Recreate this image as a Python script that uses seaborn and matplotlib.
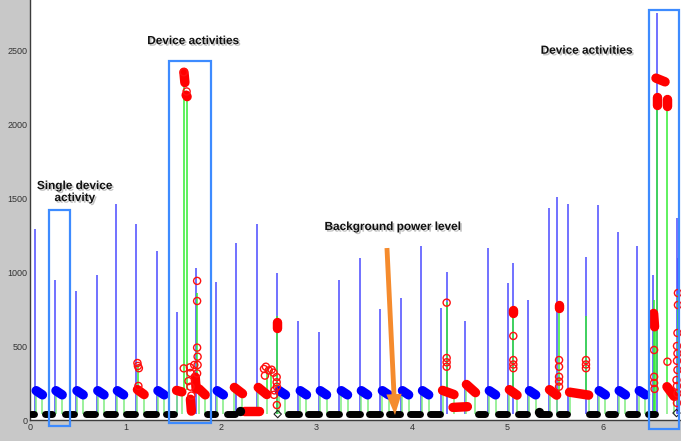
import matplotlib
matplotlib.use("Agg")
import matplotlib.pyplot as plt
import matplotlib.patheffects as pe
from matplotlib.patches import Rectangle
import numpy as np
import pandas as pd
import seaborn as sns

# appliance spikes (time, peak power)
spike_x = [0.055, 0.262, 0.482, 0.698, 0.904, 1.107, 1.327, 1.539, 1.735, 1.948,
           2.157, 2.377, 2.583, 2.806, 3.023, 3.236, 3.452, 3.665, 3.882, 4.091,
           4.304, 4.363, 4.558, 4.799, 5.008, 5.061, 5.218, 5.438, 5.515, 5.637,
           5.822, 5.951, 6.154, 6.356, 6.527, 6.562, 6.770, 6.785]
spike_top = [1290, 946, 872, 980, 1460, 1325, 1142, 732, 1027, 933,
             1195, 1325, 995, 670, 597, 946, 1097, 752, 823, 1176,
             759, 1002, 669, 1160, 924, 1058, 811, 1432, 1507, 1459,
             1100, 1450, 1272, 1178, 980, 2750, 1365, 1095]

# fridge cycles (blue runs): start, end, level at start, level at end
fridge_x0 = [0.065, 0.272, 0.492, 0.710, 0.915, 1.340, 1.960, 2.610, 2.830, 3.040,
             3.260, 3.470, 3.690, 3.900, 4.110, 4.810, 5.230, 5.960, 6.170, 6.380]
fridge_x1 = [0.130, 0.337, 0.557, 0.775, 0.980, 1.405, 2.025, 2.675, 2.895, 3.105,
             3.325, 3.535, 3.755, 3.965, 4.175, 4.875, 5.295, 6.025, 6.235, 6.445]
fridge_y0 = [198] * 20
fridge_y1 = [170] * 20

# device activity runs (red)
event_x0 = [1.125, 1.535, 1.770, 2.140, 2.390, 4.320, 4.570, 5.020, 5.440, 5.650, 6.670,
            1.612, 1.635, 6.555, 6.565, 6.675, 2.583, 5.061, 5.540, 6.530, 1.680, 1.730,
            2.240, 4.430]
event_x1 = [1.195, 1.590, 1.835, 2.225, 2.480, 4.440, 4.665, 5.100, 5.515, 5.850, 6.745,
            1.622, 1.645, 6.650, 6.565, 6.675, 2.583, 5.061, 5.540, 6.540, 1.690, 1.740,
            2.400, 4.580]
event_y0 = [205, 200, 210, 220, 220, 200, 240, 205, 205, 188, 225,
            2350, 2195, 2310, 2180, 2170, 660, 745, 780, 720, 140, 290,
            63, 85]
event_y1 = [172, 190, 170, 178, 172, 172, 185, 168, 168, 168, 160,
            2280, 2185, 2285, 2130, 2120, 620, 725, 760, 630, 60, 210,
            63, 90]

# individual samples flagged as device activity
circle_x = [1.125, 1.130, 1.140, 1.135, 1.610, 1.640, 1.610, 1.675, 1.720, 1.680,
            1.660, 1.680, 1.750, 1.750, 1.750, 1.755, 1.755, 1.750, 1.690,
            2.450, 2.470, 2.500, 2.530, 2.550, 2.460, 2.560, 2.555, 2.583, 2.583,
            2.585, 2.585, 4.363, 4.363, 4.363, 4.363, 5.061, 5.061, 5.061, 5.061,
            5.540, 5.540, 5.540, 5.540, 5.540, 5.822, 5.822, 5.822,
            6.535, 6.535, 6.535, 6.540, 6.675, 6.785, 6.785, 6.780, 6.775, 6.780,
            6.775, 6.780, 6.770, 6.775, 6.780, 6.775]
circle_y = [385, 365, 350, 230, 2350, 2220, 349, 356, 372, 318,
            263, 225, 940, 804, 489, 428, 372, 315, 165,
            345, 360, 335, 340, 320, 300, 200, 170, 290, 255,
            225, 101, 793, 419, 390, 360, 568, 405, 375, 350,
            405, 360, 292, 260, 225, 405, 375, 350,
            473, 292, 250, 210, 394, 858, 777, 588, 500, 450,
            400, 338, 270, 230, 180, 115]

# connecting lines of the activity detector
green_x = [1.613, 1.644, 1.750, 1.130, 2.480, 2.520, 2.590, 4.363, 5.061, 5.540,
           5.822, 6.530, 6.545, 6.562, 6.674, 6.785]
green_lo = [200, 200, 200, 220, 180, 180, 40, 180, 150, 150,
            150, 47, 47, 200, 200, 100]
green_hi = [2350, 2200, 860, 370, 350, 340, 700, 800, 760, 770,
            700, 810, 700, 2160, 2130, 850]

# background (standby) level runs
base_x0 = [0.010, 0.153, 0.362, 0.582, 0.791, 1.001, 1.216, 1.426, 1.852, 2.060,
           2.700, 2.910, 3.129, 3.339, 3.548, 3.758, 3.974, 4.190, 4.690, 4.899,
           5.109, 5.328, 5.538, 5.852, 6.051, 6.260, 6.470]
base_x1 = [0.040, 0.232, 0.459, 0.685, 0.895, 1.098, 1.324, 1.506, 1.942, 2.150,
           2.815, 3.024, 3.234, 3.454, 3.663, 3.873, 4.082, 4.298, 4.766, 4.996,
           5.206, 5.433, 5.624, 5.939, 6.127, 6.357, 6.546]
base_level = 40
blob_x = [2.200, 5.335]
blob_y = [60, 55]
diamond_x = [2.594, 6.770]
diamond_y = [40, 47]

# annotation boxes
box_x0 = [0.202, 1.452, 6.480]
box_x1 = [0.422, 1.898, 6.800]
box_y0 = [-40, -22, -63]
box_y1 = [1419, 2426, 2770]

sns.set_theme(style="white")
plt.rcParams["font.family"] = ["Liberation Sans", "DejaVu Sans"]

fig = plt.figure(figsize=(6.81, 4.41), dpi=100, facecolor="#c8c8c8")
ax = fig.add_axes([30 / 681, 21 / 441, 651 / 681, 420 / 441])
ax.set_facecolor("white")

ax.vlines(spike_x, base_level, spike_top, color="#4a4aff", lw=1.1, zorder=1)
ax.vlines(green_x, green_lo, green_hi, color="#33ee33", lw=1.1, zorder=2)

# short green links from background level to each run
run_x0 = fridge_x0 + event_x0[:11]
run_x1 = fridge_x1 + event_x1[:11]
run_y0 = fridge_y0 + event_y0[:11]
run_y1 = fridge_y1 + event_y1[:11]
ax.vlines(run_x0, base_level, run_y0, color="#80ee80", lw=1.1, zorder=2)
ax.vlines(run_x1, base_level, run_y1, color="#80ee80", lw=1.1, zorder=2)

for a, b in zip(base_x0, base_x1):
    ax.plot([a, b], [base_level, base_level], color="black", lw=5,
            solid_capstyle="round", zorder=3)
for a, b, c, d in zip(fridge_x0, fridge_x1, fridge_y0, fridge_y1):
    ax.plot([a, b], [c, d], color="#0000ff", lw=6.8, solid_capstyle="round", zorder=4)
for a, b, c, d in zip(event_x0, event_x1, event_y0, event_y1):
    ax.plot([a, b], [c, d], color="#ff0000", lw=6.8, solid_capstyle="round", zorder=4)

sns.scatterplot(x=blob_x, y=blob_y, color="black", s=45, linewidth=0, ax=ax, zorder=4)
sns.scatterplot(x=diamond_x, y=diamond_y, marker="D", s=14, facecolor="none",
                edgecolor="#222222", linewidth=0.8, ax=ax, zorder=5)
circles = pd.DataFrame({"t": circle_x, "p": circle_y})
sns.scatterplot(data=circles, x="t", y="p", marker="o", s=26, facecolor="none",
                edgecolor="#ff1010", linewidth=1.0, ax=ax, zorder=5)

for a, b, c, d in zip(box_x0, box_x1, box_y0, box_y1):
    ax.add_patch(Rectangle((a, c), b - a, d - c, fill=False, ec="#3d8bff",
                           lw=1.6, clip_on=False, zorder=6))

shadow = [pe.withSimplePatchShadow(offset=(1.2, -1.2), shadow_rgbFace="#777777", alpha=0.45)]
label_kw = dict(fontsize=8.5, fontweight="bold", color="#111111", ha="center",
                va="center", path_effects=shadow, zorder=7)
ax.text(1.71, 2560, "Device activities", **label_kw)
ax.text(5.83, 2495, "Device activities", **label_kw)
ax.text(0.47, 1540, "Single device\nactivity", linespacing=1.0, **label_kw)
ax.text(3.80, 1304, "Background power level", **label_kw)

ax.annotate("", xy=(3.822, 34), xytext=(3.738, 1162),
            arrowprops=dict(arrowstyle="simple,head_width=1.1,head_length=1.5,tail_width=0.35",
                            fc="#f58b2d", ec="none", mutation_scale=10,
                            shrinkA=0, shrinkB=0), zorder=7)

ax.set_xlim(0, 6.817)
ax.set_ylim(0, 2838)
ax.set_xticks(range(0, 7))
ax.set_yticks(range(0, 3000, 500))
ax.tick_params(direction="in", length=6, width=0.8, labelsize=6.5,
               colors="#333333", pad=2)
ax.set_xlabel("")
ax.set_ylabel("")
for side in ["top", "right"]:
    ax.spines[side].set_visible(False)
for side in ["left", "bottom"]:
    ax.spines[side].set_color("#3c3c3c")
    ax.spines[side].set_linewidth(1.0)

fig.savefig("out.png", dpi=100, facecolor=fig.get_facecolor())
